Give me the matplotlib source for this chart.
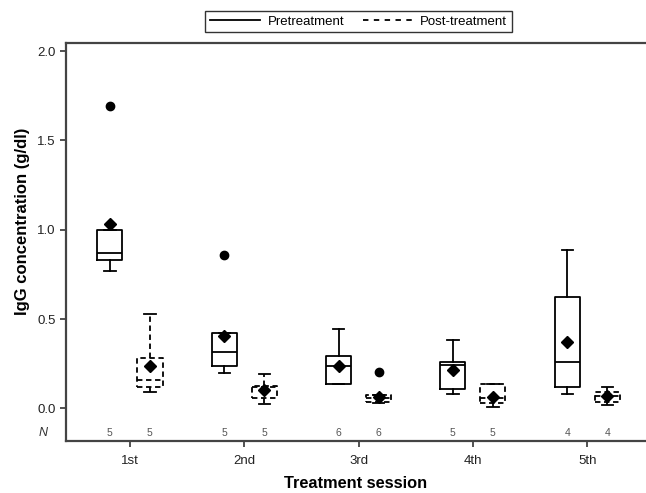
import matplotlib
matplotlib.use("Agg")
import matplotlib.pyplot as plt
from matplotlib.lines import Line2D

plt.rcParams['font.family'] = ['Liberation Sans', 'DejaVu Sans']

sessions = ["1st", "2nd", "3rd", "4th", "5th"]

# Pretreatment box statistics
pre_whislo = [0.767, 0.196, 0.134, 0.080, 0.078]
pre_q1     = [0.830, 0.238, 0.134, 0.106, 0.121]
pre_med    = [0.871, 0.317, 0.240, 0.242, 0.261]
pre_q3     = [0.998, 0.420, 0.293, 0.257, 0.625]
pre_whishi = [0.998, 0.420, 0.442, 0.382, 0.886]
pre_mean   = [1.033, 0.406, 0.238, 0.214, 0.369]
pre_fliers = [[1.692], [0.858], [], [], []]
pre_n      = [5, 5, 6, 5, 4]

# Post-treatment box statistics
post_whislo = [0.093, 0.022, 0.028, 0.006, 0.018]
post_q1     = [0.121, 0.061, 0.037, 0.031, 0.034]
post_med    = [0.158, 0.118, 0.060, 0.060, 0.070]
post_q3     = [0.280, 0.125, 0.075, 0.134, 0.093]
post_whishi = [0.528, 0.190, 0.075, 0.134, 0.118]
post_mean   = [0.235, 0.103, 0.062, 0.065, 0.069]
post_fliers = [[], [], [0.205], [], []]
post_n      = [5, 5, 6, 5, 4]

def make_stats(lo, q1, med, q3, hi, mean, fl):
    return [dict(whislo=a, q1=b, med=c, q3=d, whishi=e, mean=f, fliers=g)
            for a, b, c, d, e, f, g in zip(lo, q1, med, q3, hi, mean, fl)]

pre_stats = make_stats(pre_whislo, pre_q1, pre_med, pre_q3, pre_whishi, pre_mean, pre_fliers)
post_stats = make_stats(post_whislo, post_q1, post_med, post_q3, post_whishi, post_mean, post_fliers)

fig = plt.figure(figsize=(6.46, 4.93), dpi=100)
ax = fig.add_axes([0.102, 0.106, 0.898, 0.807])

xs = list(range(1, len(sessions) + 1))
off = 0.175
w = 0.22
dash = (0, (3, 2))

def draw(stats, pos, ls):
    lp = dict(color='black', linewidth=1.3, linestyle=ls)
    ax.bxp(stats, positions=pos, widths=w, showmeans=True, showfliers=True,
           boxprops=lp, whiskerprops=lp, medianprops=lp,
           capprops=dict(color='black', linewidth=1.3),
           meanprops=dict(marker='D', markerfacecolor='black', markeredgecolor='black', markersize=6.5),
           flierprops=dict(marker='o', markerfacecolor='black', markeredgecolor='black', markersize=6),
           capwidths=w * 0.45, manage_ticks=False)

draw(pre_stats, [x - off for x in xs], '-')
draw(post_stats, [x + off for x in xs], dash)

for x, n1, n2 in zip(xs, pre_n, post_n):
    ax.text(x - off, -0.137, str(n1), ha='center', va='center', fontsize=7.5, color='#555555')
    ax.text(x + off, -0.137, str(n2), ha='center', va='center', fontsize=7.5, color='#555555')
ax.text(-0.032, -0.137, "N", transform=ax.get_yaxis_transform(), ha='right', va='center',
        fontsize=9, style='italic', color='#333333')

ax.set_xlim(0.44, 5.514)
ax.set_ylim(-0.181, 2.046)
ax.set_xticks(xs)
ax.set_xticklabels(sessions, fontsize=9.5)
ax.set_yticks([0.0, 0.5, 1.0, 1.5, 2.0])
ax.set_yticklabels(["0.0", "0.5", "1.0", "1.5", "2.0"], fontsize=9.5)
ax.tick_params(direction='out', length=4.5, width=1.2, color='#333333', labelcolor='#222222', pad=3)
ax.tick_params(axis='x', pad=6)

for s in ['left', 'bottom', 'top']:
    ax.spines[s].set_color('#444444')
    ax.spines[s].set_linewidth(1.6)
ax.spines['right'].set_visible(False)

ax.set_ylabel("IgG concentration (g/dl)", fontsize=12, fontweight='bold')
ax.yaxis.set_label_coords(-0.062, 0.552)
ax.set_xlabel("Treatment session", fontsize=11.8, fontweight='bold', labelpad=6)

handles = [Line2D([], [], color='black', linewidth=1.3, linestyle='-'),
           Line2D([], [], color='black', linewidth=1.3, linestyle=(0, (3, 3)))]
leg = fig.legend(handles, ["Pretreatment", "Post-treatment"], loc='center',
                 bbox_to_anchor=(0.555, 0.956), ncol=2, fontsize=9.5, frameon=True,
                 fancybox=False, edgecolor='black', handlelength=3.8, columnspacing=1.4,
                 borderpad=0.35, handletextpad=0.55)
leg.get_frame().set_linewidth(1.0)

fig.savefig("out.png", dpi=100)
